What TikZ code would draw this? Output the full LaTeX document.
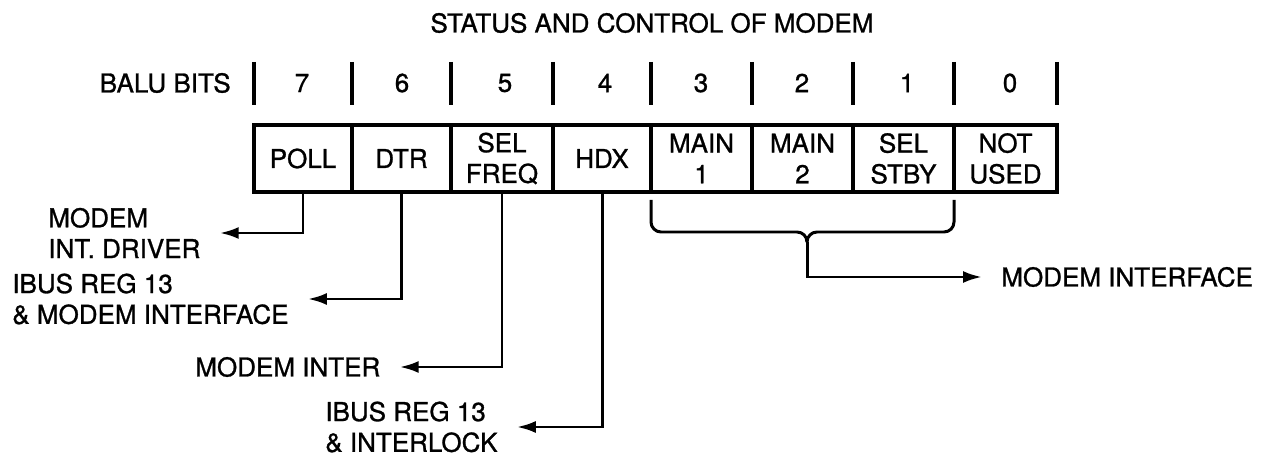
\documentclass[tikz,border=0pt]{standalone}
\usepackage{fontspec}
\setmainfont[FakeBold=1]{TeX Gyre Heros}
\usetikzlibrary{arrows.meta}

\begin{document}
\begin{tikzpicture}[every node/.style={font=\fontsize{14.8}{17.5}\selectfont}, >={Latex[length=3.8mm,width=2.4mm]},
	bar/.style={line width=2.4pt},
	cell/.style={draw, line width=2pt, minimum height=1.34cm, inner sep=1pt, outer sep=0pt, align=center},
	lab/.style={inner sep=0pt, align=left},
	conn/.style={->, line width=1.7pt, shorten >=0.38cm},
	bracket/.style={line width=1.7pt, rounded corners=0.2cm}]
	\useasboundingbox (0,0) rectangle (25.4,9.18);
	\node (title) at (13.04,8.72) {STATUS AND CONTROL OF MODEM};
	% bit numbers
	\node[lab, anchor=east] (balu) at (4.62,7.52) {BALU BITS};
	\foreach \x in {5.08,7.04,9.02,11.06,13.02,15.04,17.06,19.08,21.14} {\draw[bar] (\x,7.94) -- (\x,7.08);}
	\foreach \x/\d in {6.04/7,8.04/6,10.10/5,12.10/4,14.02/3,16.04/2,18.14/1,20.20/0} {\node (b\d) at (\x,7.52) {\d};}
	% register
	\foreach \l/\r/\n/\t in {5.08/7.04/poll/POLL, 7.04/9.02/dtr/DTR, 9.02/11.06/sf/{SEL\\FREQ}, 11.06/13.02/hdx/HDX,
		13.02/15.04/ma/{MAIN\\1}, 15.04/17.06/mb/{MAIN\\2}, 17.06/19.08/sb/{SEL\\STBY}, 19.08/21.14/nu/{NOT\\USED}}
		{\node[cell, minimum width={(\r-\l)*1cm}] (\n) at ({(\l+\r)/2},6.01) {\t};}
	% destinations
	\node[lab, anchor=west] (drv) at (0.96,4.52) {MODEM\\INT. DRIVER};
	\node[lab, anchor=west] (ibr) at (0.24,3.20) {IBUS REG 13\\\& MODEM INTERFACE};
	\node[lab, anchor=west] (inter) at (3.90,1.84) {MODEM INTER};
	\node[lab, anchor=west] (ilk) at (6.50,0.64) {IBUS REG 13\\\& INTERLOCK};
	\node[lab, anchor=west] (mif) at (20.02,3.64) {MODEM INTERFACE};
	\draw[conn] (poll.south) |- (drv.east);
	\draw[conn] (dtr.south) |- (ibr.east);
	\draw[conn] (sf.south) |- (inter.east);
	\draw[conn] (hdx.south) |- (ilk.east);
	% brace over bits 3..1
	\coordinate (tip) at (16.14,4.34);
	\draw[bracket] ([yshift=-0.16cm]ma.south west) |- ([yshift=0.2cm]tip) -- (tip);
	\draw[bracket] ([yshift=-0.16cm]sb.south east) |- ([yshift=0.2cm]tip) -- (tip);
	\draw[conn] (tip) |- (mif.west);
\end{tikzpicture}
\end{document}
